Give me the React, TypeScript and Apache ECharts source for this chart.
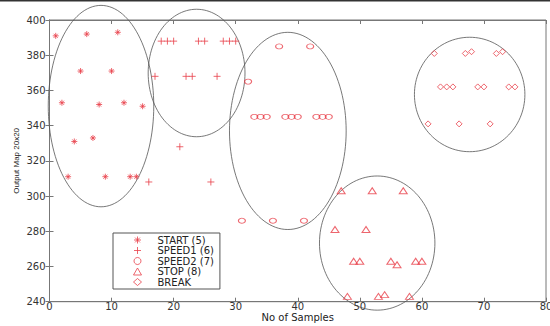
import React, { useEffect, useRef } from "react";
import * as echarts from "echarts";

const RED = "#e8404a";
const FONT = "'DejaVu Sans', Verdana, sans-serif";
const FONT_NARROW = "'Liberation Sans', Arial, sans-serif";

const xTicks = [0, 80, 10];
const yTicks = [240, 400, 20];

const startPts = [
  [1, 391], [6, 392], [11, 393], [5, 371], [10, 371], [2, 353], [8, 352], [12, 353],
  [15, 351], [4, 331], [7, 333], [3, 311], [9, 311], [13, 311], [14, 311],
];
const speed1Pts = [
  [18, 388], [19, 388], [20, 388], [24, 388], [25, 388], [28, 388], [29, 388], [30, 388],
  [17, 368], [22, 368], [23, 368], [27, 368], [21, 328], [16, 308], [26, 308],
];
const speed2Pts = [
  [37, 385], [42, 385], [32, 365], [33, 345], [34, 345], [35, 345], [38, 345], [39, 345],
  [40, 345], [43, 345], [44, 345], [45, 345], [31, 286], [36, 286], [41, 286],
];
const stopPts = [
  [47, 303], [52, 303], [57, 303], [46, 281], [51, 281], [49, 263], [50, 263], [55, 263],
  [56, 261], [59, 263], [60, 263], [48, 243], [53, 243], [54, 244], [58, 243],
];
const breakPts = [
  [62, 381], [67, 381], [68, 382], [72, 381], [73, 382], [63, 362], [64, 362], [65, 362],
  [69, 362], [70, 362], [74, 362], [75, 362], [61, 341], [66, 341], [71, 341],
];
// ellipses: centre x, centre y, radius x, radius y (data units)
const ellipses = [
  [8.3, 351.1, 8.5, 57.2],
  [23.7, 369.9, 7.8, 36.2],
  [38.4, 337.0, 9.4, 56.0],
  [52.8, 273.3, 9.3, 38.1],
  [67.7, 357.7, 8.9, 32.5],
];

const seriesNames = ["START (5)", "SPEED1 (6)", "SPEED2 (7)", "STOP (8)", "BREAK"];

const ASTER = "path://M5,0L5,10M0,5L10,5M1.6,1.6L8.4,8.4M8.4,1.6L1.6,8.4";
const PLUS = "path://M5,0L5,10M0,5L10,5";
const symbols = [ASTER, PLUS, "circle", "triangle", "diamond"];

export default function App() {
  const ref = useRef<HTMLDivElement>(null);
  useEffect(() => {
    const chart = echarts.init(ref.current!, null, { renderer: "svg" });
    const markerStyle = { color: "transparent", borderColor: RED, borderWidth: 1 };
    const mk = (name: string, data: number[][], symbol: string, size: any) => ({
      name,
      type: "scatter",
      data,
      symbol,
      symbolSize: size,
      itemStyle: markerStyle,
      z: 3,
    });
    const axisLine = { show: true, lineStyle: { color: "#777", width: 1 } };
    const tick = { show: true, inside: true, length: 4, lineStyle: { color: "#777" } };
    chart.setOption({
      animation: false,
      grid: {
        left: 49.5, right: 4, top: 20, bottom: 24.3, show: true,
        borderColor: "#777", borderWidth: 1, outerBoundsMode: "none", containLabel: false,
      },
      xAxis: [
        {
          type: "value", min: xTicks[0], max: xTicks[1], interval: xTicks[2],
          axisLine, axisTick: tick, splitLine: { show: false },
          axisLabel: { fontSize: 10, lineHeight: 10, color: "#333", fontFamily: FONT, margin: 0 },
          name: "No of Samples", nameLocation: "middle", nameGap: 10, nameMoveOverlap: false,
          nameTextStyle: { fontSize: 10, lineHeight: 12, color: "#222", fontFamily: FONT },
        },
        {
          type: "value", position: "top", min: xTicks[0], max: xTicks[1], interval: xTicks[2],
          axisLine, axisTick: tick, splitLine: { show: false }, axisLabel: { show: false },
        },
      ],
      yAxis: [
        {
          type: "value", min: yTicks[0], max: yTicks[1], interval: yTicks[2],
          axisLine, axisTick: tick, splitLine: { show: false },
          axisLabel: { fontSize: 10, color: "#333", fontFamily: FONT, margin: 4 },
          name: "Output Map 20x20", nameLocation: "middle", nameGap: 29, nameMoveOverlap: false,
          nameTextStyle: { fontSize: 8, color: "#222", fontFamily: FONT_NARROW },
        },
        {
          type: "value", position: "right", min: yTicks[0], max: yTicks[1], interval: yTicks[2],
          axisLine, axisTick: tick, splitLine: { show: false }, axisLabel: { show: false },
        },
      ],
      legend: {
        data: seriesNames.map((name, i) => ({
          name,
          icon: symbols[i],
          itemStyle: { color: "transparent", borderColor: RED, borderWidth: 1 },
        })),
        orient: "vertical",
        left: 113,
        top: 233,
        padding: [2, 6, 2, 20],
        itemWidth: 8,
        itemHeight: 7,
        itemGap: 0.5,
        borderColor: "#555",
        borderWidth: 1,
        backgroundColor: "#fff",
        textStyle: {
          fontSize: 10, color: "#222", fontFamily: FONT, lineHeight: 10,
          padding: [0, 0, 0, 11],
        },
      },
      graphic: [
        { type: "rect", left: 0, top: 0, shape: { width: 550, height: 1.5 }, style: { fill: "#333" } },
      ],
      series: [
        {
          type: "custom",
          name: "ellipses",
          clip: false,
          data: ellipses,
          encode: { x: 0, y: 1 },
          z: 1,
          renderItem: (params: any, api: any) => {
            const cx = api.value(0), cy = api.value(1), rx = api.value(2), ry = api.value(3);
            const pts: number[][] = [];
            const n = 120;
            for (let i = 0; i < n; i++) {
              const t = (i / n) * Math.PI * 2;
              pts.push(api.coord([cx + rx * Math.cos(t), cy + ry * Math.sin(t)]));
            }
            return {
              type: "polygon",
              shape: { points: pts },
              style: { fill: "none", stroke: "#555", lineWidth: 0.8 },
            };
          },
        },
        mk(seriesNames[0], startPts, ASTER, 6),
        mk(seriesNames[1], speed1Pts, PLUS, 7),
        mk(seriesNames[2], speed2Pts, "circle", [7, 5]),
        mk(seriesNames[3], stopPts, "triangle", [8, 6]),
        mk(seriesNames[4], breakPts, "diamond", [6, 6]),
      ],
    });
    return () => chart.dispose();
  }, []);
  return (
    <div
      ref={ref}
      style={{ position: "fixed", left: 0, top: 0, width: 550, height: 326, background: "#fff" }}
    />
  );
}
